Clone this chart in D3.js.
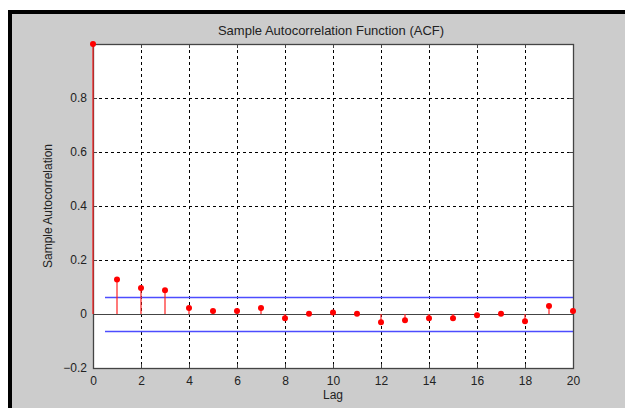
<!DOCTYPE html>
<html>
<head>
<meta charset="utf-8">
<script src="https://cdn.jsdelivr.net/npm/d3@7/dist/d3.min.js"></script>
<style>
  body { margin: 0; background: #fff; }
  text { font-family: "Liberation Sans", Arial, sans-serif; fill: #222; }
</style>
</head>
<body>
<script>
// lags and sample autocorrelation values
var lags = [0, 1, 2, 3, 4, 5, 6, 7, 8, 9, 10, 11, 12, 13, 14, 15, 16, 17, 18, 19, 20];
var acf  = [1, 0.128, 0.096, 0.088, 0.022, 0.011, 0.011, 0.022, -0.016, 0.001, 0.006,
            0.001, -0.031, -0.023, -0.016, -0.016, -0.005, 0.001, -0.027, 0.030, 0.011];
var bounds = [0.064, -0.064];
var boundLags = [0.5, 20];
var xTicks = [0, 2, 4, 6, 8, 10, 12, 14, 16, 18, 20];
var yTicks = [-0.2, 0, 0.2, 0.4, 0.6, 0.8];

var width = 625, height = 408;
// note: "top" is reserved on window, so prefix everything
var pLeft = 93, pRight = 573, pTop = 44, pBottom = 368;

var svg = d3.select('body').append('svg')
  .attr('width', width)
  .attr('height', height);

// frame: black border, gray figure background
svg.append('rect').attr('x', 8).attr('y', 10).attr('width', width - 8).attr('height', height - 10)
  .attr('fill', '#000');
svg.append('rect').attr('x', 12).attr('y', 14).attr('width', width - 12).attr('height', height - 14)
  .attr('fill', '#cccccc');

var x = d3.scaleLinear().domain([0, 20]).range([pLeft, pRight]);
var y = d3.scaleLinear().domain([-0.2, 1]).range([pBottom, pTop]);

svg.append('rect')
  .attr('x', pLeft).attr('y', pTop)
  .attr('width', pRight - pLeft).attr('height', pBottom - pTop)
  .attr('fill', '#fff');

// dotted grid
var grid = svg.append('g')
  .attr('stroke', '#000')
  .attr('stroke-width', 1)
  .attr('stroke-dasharray', '3,3');
grid.selectAll('line.v')
  .data(xTicks.filter(function(d) { return d > 0 && d < 20; }))
  .enter().append('line')
    .attr('x1', function(d) { return Math.round(x(d)) + 0.5; })
    .attr('x2', function(d) { return Math.round(x(d)) + 0.5; })
    .attr('y1', pTop).attr('y2', pBottom);
grid.selectAll('line.h')
  .data(yTicks.filter(function(d) { return d > 0; }))
  .enter().append('line')
    .attr('y1', function(d) { return Math.round(y(d)) + 0.5; })
    .attr('y2', function(d) { return Math.round(y(d)) + 0.5; })
    .attr('x1', pLeft).attr('x2', pRight);

// confidence bounds
svg.selectAll('line.bound')
  .data(bounds)
  .enter().append('line')
    .attr('x1', x(boundLags[0])).attr('x2', x(boundLags[1]))
    .attr('y1', function(d) { return Math.round(y(d)) + 0.5; })
    .attr('y2', function(d) { return Math.round(y(d)) + 0.5; })
    .attr('stroke', '#4d4dff')
    .attr('stroke-width', 1.3);

// baseline at zero
svg.append('line')
  .attr('x1', pLeft).attr('x2', pRight)
  .attr('y1', Math.round(y(0)) + 0.5).attr('y2', Math.round(y(0)) + 0.5)
  .attr('stroke', '#444').attr('stroke-width', 1.2);

// axes
var xAxis = d3.axisBottom(x).tickValues(xTicks).tickSize(-4).tickPadding(8)
  .tickFormat(d3.format('d'));
var yAxis = d3.axisLeft(y).tickValues(yTicks).tickSize(-4).tickPadding(6)
  .tickFormat(function(d) { return d === 0 ? '0' : d3.format('.1f')(d); });

var gx = svg.append('g').attr('transform', 'translate(0,' + pBottom + ')').call(xAxis);
var gy = svg.append('g').attr('transform', 'translate(' + pLeft + ',0)').call(yAxis);
[gx, gy].forEach(function(g) {
  g.select('.domain').remove();
  g.selectAll('line').attr('stroke', '#444');
  g.selectAll('text').style('font-size', '12px').attr('fill', '#222');
});

// top/right axes ticks
svg.append('g').attr('transform', 'translate(0,' + pTop + ')')
  .call(d3.axisTop(x).tickValues(xTicks).tickSize(-4).tickFormat(''))
  .call(function(g) { g.select('.domain').remove(); g.selectAll('line').attr('stroke', '#444'); });
svg.append('g').attr('transform', 'translate(' + pRight + ',0)')
  .call(d3.axisRight(y).tickValues(yTicks).tickSize(-4).tickFormat(''))
  .call(function(g) { g.select('.domain').remove(); g.selectAll('line').attr('stroke', '#444'); });

// box
svg.append('rect')
  .attr('x', pLeft + 0.5).attr('y', pTop + 0.5)
  .attr('width', pRight - pLeft).attr('height', pBottom - pTop)
  .attr('fill', 'none').attr('stroke', '#444').attr('stroke-width', 1.3);

// stems
var pts = lags.map(function(l, i) { return { lag: l, v: acf[i] }; });
svg.selectAll('line.stem')
  .data(pts)
  .enter().append('line')
    .attr('x1', function(d) { return x(d.lag); })
    .attr('x2', function(d) { return x(d.lag); })
    .attr('y1', y(0))
    .attr('y2', function(d) { return y(d.v); })
    .attr('stroke', '#ff2020')
    .attr('stroke-width', 1.2);
svg.selectAll('circle.pt')
  .data(pts)
  .enter().append('circle')
    .attr('cx', function(d) { return x(d.lag); })
    .attr('cy', function(d) { return y(d.v); })
    .attr('r', 3)
    .attr('fill', '#ff0000');

// labels
svg.append('text')
  .attr('x', 331).attr('y', 35)
  .attr('text-anchor', 'middle')
  .style('font-size', '13px')
  .text('Sample Autocorrelation Function (ACF)');
svg.append('text')
  .attr('x', 333).attr('y', 399)
  .attr('text-anchor', 'middle')
  .style('font-size', '12px')
  .text('Lag');
svg.append('text')
  .attr('transform', 'translate(52,206) rotate(-90)')
  .attr('text-anchor', 'middle')
  .style('font-size', '12px')
  .text('Sample Autocorrelation');
</script>
</body>
</html>
